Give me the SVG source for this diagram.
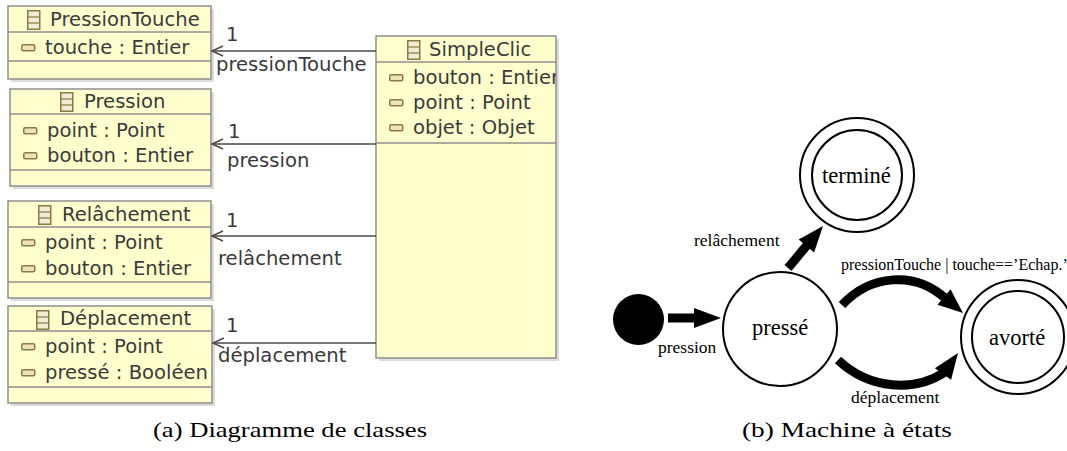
<svg xmlns="http://www.w3.org/2000/svg" xmlns:xlink="http://www.w3.org/1999/xlink" width="1067" height="451" viewBox="0 0 1067 451">
<style>
.box{fill:#FFFFCE;stroke:#8e8e8e;stroke-width:1.5}
.shadow{fill:#dcdcdc}
.sep{stroke:#8e8e8e;stroke-width:1.5}
.cls{font-family:"DejaVu Sans",sans-serif;font-size:19.6px;fill:#3a3a3a}
.assoc{stroke:#4a4a4a;stroke-width:1.5;fill:none}
.st{fill:#fff;stroke:#000;stroke-width:2}
.sm{font-family:"Liberation Serif","Times New Roman",serif;fill:#000}
.lbl{font-size:17.5px}
.sname{font-size:22.5px}
.shaft{stroke:#000;stroke-width:9;fill:none}
.cap{font-family:"Liberation Serif","Times New Roman",serif;font-size:21px;fill:#000}
</style>
<defs>
<g id="cicon">
<rect x="0.75" y="0.75" width="12" height="18.5" fill="#eeecd2" stroke="#8b7a45" stroke-width="1.5"/>
<line x1="0.75" y1="7" x2="12.75" y2="7" stroke="#8b7a45" stroke-width="1.2"/>
<line x1="0.75" y1="13" x2="12.75" y2="13" stroke="#8b7a45" stroke-width="1.2"/>
</g>
<rect id="aicon" x="0.75" y="0.75" width="13" height="6" rx="1.5" fill="#ece4b8" stroke="#8b7a45" stroke-width="1.5"/>
<clipPath id="scclip"><rect x="376" y="36" width="180" height="322"/></clipPath>
</defs>

<g id="PressionTouche">
<rect class="shadow" x="11" y="9" width="203" height="73"/>
<rect class="box" x="8" y="6" width="203" height="73"/>
<line class="sep" x1="8" y1="32" x2="211" y2="32"/>
<line class="sep" x1="8" y1="61" x2="211" y2="61"/>
<use xlink:href="#cicon" x="27" y="10"/>
<text class="cls" x="50" y="26">PressionTouche</text>
<use xlink:href="#aicon" x="21" y="44"/>
<text class="cls" x="45" y="54">touche : Entier</text>
</g>

<g id="Pression">
<rect class="shadow" x="13" y="92" width="201" height="97"/>
<rect class="box" x="10" y="89" width="201" height="97"/>
<line class="sep" x1="10" y1="114" x2="211" y2="114"/>
<line class="sep" x1="10" y1="170" x2="211" y2="170"/>
<use xlink:href="#cicon" x="60" y="92"/>
<text class="cls" x="84" y="108">Pression</text>
<use xlink:href="#aicon" x="23" y="127"/>
<text class="cls" x="47" y="137">point : Point</text>
<use xlink:href="#aicon" x="23" y="152"/>
<text class="cls" x="47" y="162">bouton : Entier</text>
</g>

<g id="Relachement">
<rect class="shadow" x="11" y="204" width="203" height="97"/>
<rect class="box" x="8" y="201" width="203" height="97"/>
<line class="sep" x1="8" y1="227" x2="211" y2="227"/>
<line class="sep" x1="8" y1="282" x2="211" y2="282"/>
<use xlink:href="#cicon" x="38" y="205"/>
<text class="cls" x="62" y="221">Relâchement</text>
<use xlink:href="#aicon" x="21" y="239"/>
<text class="cls" x="45" y="249">point : Point</text>
<use xlink:href="#aicon" x="21" y="265"/>
<text class="cls" x="45" y="275">bouton : Entier</text>
</g>

<g id="Deplacement">
<rect class="shadow" x="11" y="309" width="204" height="97"/>
<rect class="box" x="8" y="306" width="204" height="97"/>
<line class="sep" x1="8" y1="331" x2="212" y2="331"/>
<line class="sep" x1="8" y1="387" x2="212" y2="387"/>
<use xlink:href="#cicon" x="36" y="310"/>
<text class="cls" x="60" y="325">Déplacement</text>
<use xlink:href="#aicon" x="21" y="343"/>
<text class="cls" x="45" y="353">point : Point</text>
<use xlink:href="#aicon" x="21" y="369"/>
<text class="cls" x="45" y="379">pressé : Booléen</text>
</g>

<g id="SimpleClic">
<rect class="shadow" x="379" y="39" width="180" height="322"/>
<rect class="box" x="376" y="36" width="180" height="322"/>
<line class="sep" x1="376" y1="62" x2="556" y2="62"/>
<line class="sep" x1="376" y1="143" x2="556" y2="143"/>
<use xlink:href="#cicon" x="407" y="40"/>
<text class="cls" x="429" y="56">SimpleClic</text>
<use xlink:href="#aicon" x="389" y="74"/>
<text class="cls" x="413" y="84" clip-path="url(#scclip)">bouton : Entier</text>
<use xlink:href="#aicon" x="389" y="99"/>
<text class="cls" x="413" y="109">point : Point</text>
<use xlink:href="#aicon" x="389" y="124"/>
<text class="cls" x="413" y="134">objet : Objet</text>
</g>

<g id="associations">
<line class="assoc" x1="376" y1="51" x2="212" y2="51"/>
<polyline class="assoc" points="223,46 212,51 223,56"/>
<text class="cls" x="226" y="41">1</text>
<text class="cls" x="216" y="71">pressionTouche</text>
<line class="assoc" x1="376" y1="144" x2="212" y2="144"/>
<polyline class="assoc" points="223,139 212,144 223,149"/>
<text class="cls" x="228" y="138">1</text>
<text class="cls" x="227" y="167">pression</text>
<line class="assoc" x1="376" y1="236" x2="212" y2="236"/>
<polyline class="assoc" points="223,231 212,236 223,241"/>
<text class="cls" x="226" y="227">1</text>
<text class="cls" x="218" y="265">relâchement</text>
<line class="assoc" x1="376" y1="343" x2="213" y2="343"/>
<polyline class="assoc" points="224,338 213,343 224,348"/>
<text class="cls" x="226" y="332">1</text>
<text class="cls" x="218" y="362">déplacement</text>
</g>

<g id="initial"><circle cx="638.5" cy="319.5" r="25.5" fill="#000"/></g>
<g id="presse"><circle class="st" cx="780" cy="329" r="57"/><text class="sm sname" x="752" y="335">pressé</text></g>
<g id="termine"><circle class="st" cx="857" cy="175" r="57"/><circle class="st" cx="857" cy="175" r="45"/><text class="sm sname" x="822" y="183">terminé</text></g>
<g id="avorte"><circle class="st" cx="1018" cy="337" r="57"/><circle class="st" cx="1018" cy="337" r="46"/><text class="sm sname" x="989" y="345">avorté</text></g>

<g id="transitions">
<line class="shaft" x1="668" y1="318" x2="696" y2="318"/>
<polygon points="694,308 721,318 694,328" fill="#000"/>
<text class="sm lbl" x="658" y="353">pression</text>
<line class="shaft" x1="788" y1="268" x2="808" y2="244"/>
<polygon points="798.7,239.6 823,226 814.1,252.4" fill="#000"/>
<text class="sm lbl" x="694" y="246">relâchement</text>
<path class="shaft" d="M842,305 C870,275 915,270 946,299"/>
<polygon points="937.5,304.7 963,313 950.5,289.3" fill="#000"/>
<text class="sm" x="841" y="270" font-size="16px">pressionTouche | touche==’Echap.’</text>
<path class="shaft" d="M838,360 C870,390 915,392 945,372"/>
<polygon points="934.9,368.2 958,353 951.1,379.8" fill="#000"/>
<text class="sm lbl" x="851" y="403">déplacement</text>
</g>

<text class="cap" x="153" y="437" textLength="274" lengthAdjust="spacingAndGlyphs">(a) Diagramme de classes</text>
<text class="cap" x="742" y="437" textLength="210" lengthAdjust="spacingAndGlyphs">(b) Machine à états</text>
</svg>
